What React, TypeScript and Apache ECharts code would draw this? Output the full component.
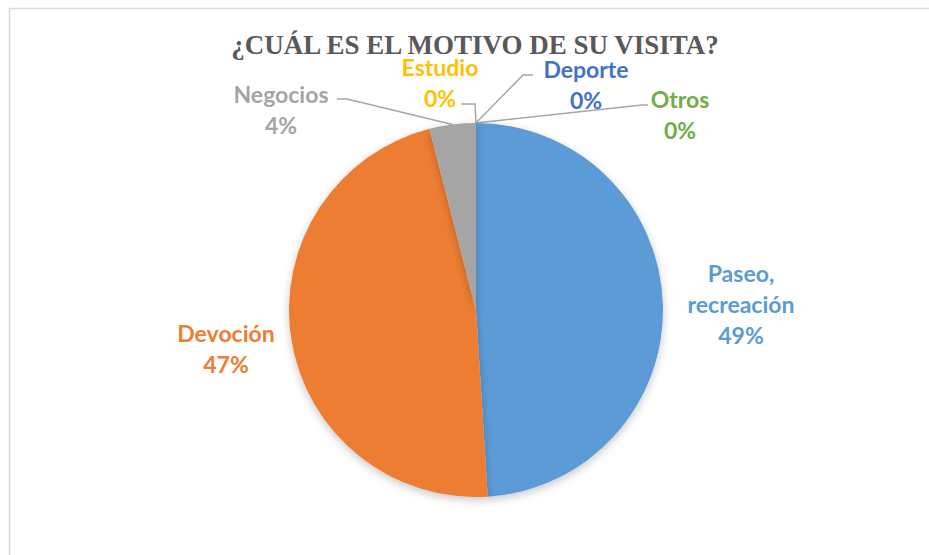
import React, { useEffect, useRef } from 'react';
import * as echarts from 'echarts';

const categories = ['Paseo, recreación', 'Devoción', 'Negocios', 'Estudio', 'Deporte', 'Otros'];
const values = [49, 47, 4, 0, 0, 0];
const colors = ['#5B9BD5', '#ED7D31', '#A5A5A5', '#FFC000', '#4472C4', '#70AD47'];
const titleText = '¿CUÁL ES EL MOTIVO DE SU VISITA?';

// layout (not data)
const CX = 476;
const CY = 310;
const R = 187;
const labelPos = [[741, 304], [226, 348], [281, 109], [440, 82], [586, 84], [680, 114]];
const lineTail: (number[][] | null)[] = [
  null,
  null,
  [[347, 99], [337, 99]],
  [[475, 104], [461, 104]],
  [[523, 75], [533, 75]],
  [[642, 105], [648, 105]],
];

export default function App() {
  const ref = useRef<HTMLDivElement>(null);
  useEffect(() => {
    if (!ref.current) return;
    const chart = echarts.init(ref.current, undefined, { renderer: 'svg' });
    const data = categories.map((name, i) => ({
      name,
      value: values[i],
      itemStyle: { color: colors[i] },
      label: { color: colors[i] },
      labelLine: { show: lineTail[i] !== null },
    }));
    chart.setOption({
      animation: false,
      backgroundColor: '#ffffff',
      graphic: [
        {
          type: 'rect',
          shape: { x: 9.5, y: 8.5, width: 960, height: 600 },
          style: { fill: 'none', stroke: '#d9d9d9', lineWidth: 1.5 },
          silent: true,
        },
        {
          type: 'text',
          x: 475,
          y: 45,
          style: {
            text: titleText,
            fill: '#595959',
            font: 'bold 27px "Liberation Serif", "DejaVu Serif", serif',
            textAlign: 'center',
            textVerticalAlign: 'middle',
          },
        },
      ],
      series: [
        {
          type: 'pie',
          center: [CX, CY],
          radius: [0, R],
          startAngle: 90,
          clockwise: true,
          percentPrecision: 0,
          minShowLabelAngle: 0,
          avoidLabelOverlap: false,
          data,
          itemStyle: {
            shadowBlur: 8,
            shadowColor: 'rgba(0,0,0,0.22)',
            shadowOffsetY: 3,
          },
          label: {
            show: true,
            position: 'outside',
            formatter: (p: any) => `${p.name.replace(', ', ',\n')}\n${Math.round(p.percent)}%`,
            fontFamily: 'Lato, "Noto Sans", sans-serif',
            fontWeight: 'bold',
            fontSize: 23,
            lineHeight: 31,
            align: 'center',
          },
          labelLine: {
            show: true,
            lineStyle: { color: '#A6A6A6', width: 1.5 },
          },
          labelLayout: (params: any) => {
            const i = params.dataIndex;
            const pos = labelPos[i];
            const out: any = {
              x: pos[0],
              y: pos[1],
              align: 'center',
              verticalAlign: 'middle',
            };
            const tail = lineTail[i];
            if (tail && params.labelLinePoints) {
              out.labelLinePoints = [params.labelLinePoints[0], tail[0], tail[1]];
            }
            return out;
          },
        },
      ],
    });
    return () => chart.dispose();
  }, []);
  return (
    <div
      ref={ref}
      style={{ position: 'fixed', left: 0, top: 0, width: 929, height: 555 }}
    />
  );
}
